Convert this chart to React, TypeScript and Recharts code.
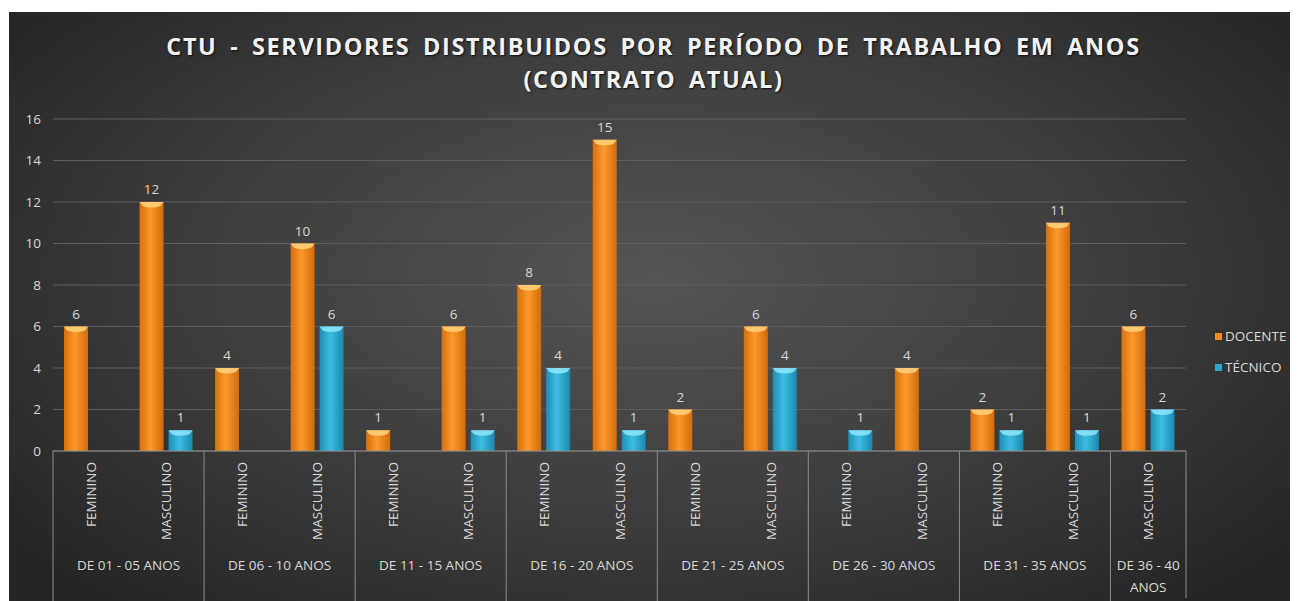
import { BarChart, Bar, XAxis, YAxis, CartesianGrid, LabelList } from 'recharts'

// categories: two-level axis (period group / gender)
const groups = [
  'DE 01 - 05 ANOS', 'DE 01 - 05 ANOS',
  'DE 06 - 10 ANOS', 'DE 06 - 10 ANOS',
  'DE 11 - 15 ANOS', 'DE 11 - 15 ANOS',
  'DE 16 - 20 ANOS', 'DE 16 - 20 ANOS',
  'DE 21 - 25 ANOS', 'DE 21 - 25 ANOS',
  'DE 26 - 30 ANOS', 'DE 26 - 30 ANOS',
  'DE 31 - 35 ANOS', 'DE 31 - 35 ANOS',
  'DE 36 - 40 ANOS',
]
const genders = [
  'FEMININO', 'MASCULINO', 'FEMININO', 'MASCULINO', 'FEMININO', 'MASCULINO',
  'FEMININO', 'MASCULINO', 'FEMININO', 'MASCULINO', 'FEMININO', 'MASCULINO',
  'FEMININO', 'MASCULINO', 'MASCULINO',
]
const docente = [6, 12, 4, 10, 1, 6, 8, 15, 2, 6, null, 4, 2, 11, 6]
const tecnico = [null, 1, null, 6, null, 1, 4, 1, null, 4, 1, null, 1, 1, 2]
const yTicks = [0, 2, 4, 6, 8, 10, 12, 14, 16]

const data = genders.map((g, i) => ({
  key: `${i}`,
  gender: g,
  group: groups[i],
  DOCENTE: docente[i],
  TECNICO: tecnico[i],
}))

const W = 1289
const H = 589
const M = { top: 107, right: 112, left: 0, bottom: 0 }
const Y_W = 44
const X_H = 150
const catW = (W - M.left - M.right - Y_W) / data.length

const txt = '#d9d9d9'
const font = 'Open Sans, sans-serif'

function AxisTick(props: any) {
  const { x, y, payload } = props
  const i = payload.index
  const d = data[i]
  const first = i === 0 || data[i - 1].group !== d.group
  let size = 0
  for (let j = i; j < data.length && data[j].group === d.group; j++) size++
  const left = x - catW / 2
  const isLast = i === data.length - 1
  const groupCx = left + (size * catW) / 2
  const twoLines = size === 1
  return (
    <g>
      <text
        x={x}
        y={y + 11}
        transform={`rotate(-90 ${x} ${y + 11})`}
        textAnchor="end"
        dominantBaseline="central"
        fill={txt}
        fontSize={13.5}
        fontFamily={font}
      >
        {d.gender}
      </text>
      {first && <line x1={left} x2={left} y1={y} y2={y + 150} stroke="#8c8c8c" strokeWidth={1} />}
      {isLast && <line x1={x + catW / 2} x2={x + catW / 2} y1={y} y2={y + 147} stroke="#8c8c8c" strokeWidth={1} />}
      {first && !twoLines && (
        <text x={groupCx} y={y + 119} textAnchor="middle" fill={txt} fontSize={13.5} fontFamily={font}>
          {d.group}
        </text>
      )}
      {first && twoLines && (
        <text x={groupCx} y={y + 119} textAnchor="middle" fill={txt} fontSize={13.5} fontFamily={font}>
          <tspan x={groupCx}>DE 36 - 40</tspan>
          <tspan x={groupCx} dy={22}>ANOS</tspan>
        </text>
      )}
    </g>
  )
}

function makeShape(grad: string, cap: string) {
  return (props: any) => {
    const { x, y, width, height } = props
    if (height == null || height <= 0) return <g />
    const capH = Math.min(7, height)
    return (
      <g>
        <rect x={x} y={y} width={width} height={height} fill={`url(#${grad})`} />
        <path
          d={`M${x},${y} L${x + width},${y} L${x + width - 3},${y + capH - 3} Q${x + width / 2},${y + capH} ${x + 3},${y + capH - 3} Z`}
          fill={cap}
          opacity={0.85}
        />
      </g>
    )
  }
}

const fmt = (v: any) => (v == null ? '' : v)

export default function App() {
  return (
    <div
      style={{
        position: 'relative',
        width: W,
        height: H,
        marginTop: 4,
        marginLeft: 1,
        background: 'radial-gradient(ellipse 65% 75% at 50% 45%, #555555 0%, #3c3c3c 55%, #242424 100%)',
        fontFamily: font,
        overflow: 'hidden',
      }}
    >
      <div
        style={{
          position: 'absolute',
          top: 18,
          left: 0,
          width: W,
          textAlign: 'center',
          color: '#f2f2f2',
          fontWeight: 700,
          fontSize: 23.5,
          letterSpacing: 1.6,
          wordSpacing: 5,
          lineHeight: '33px',
          textShadow: '1px 1px 2px rgba(0,0,0,0.8)',
        }}
      >
        CTU - SERVIDORES DISTRIBUIDOS POR PERÍODO DE TRABALHO EM ANOS
        <br />
        (CONTRATO ATUAL)
      </div>
      <BarChart width={W} height={H} data={data} margin={M} barSize={24} barGap={5}>
        <defs>
          <linearGradient id="gOrange" x1="0" y1="0" x2="1" y2="0">
            <stop offset="0%" stopColor="#d86e0c" />
            <stop offset="45%" stopColor="#fa9a2c" />
            <stop offset="100%" stopColor="#d46a0a" />
          </linearGradient>
          <linearGradient id="gCyan" x1="0" y1="0" x2="1" y2="0">
            <stop offset="0%" stopColor="#1d8fb5" />
            <stop offset="45%" stopColor="#3dbde2" />
            <stop offset="100%" stopColor="#1a88ad" />
          </linearGradient>
        </defs>
        <CartesianGrid vertical={false} stroke="#5e5e5e" />
        <XAxis
          dataKey="key"
          interval={0}
          height={X_H}
          tickSize={0}
          tickMargin={0}
          tick={<AxisTick />}
          axisLine={{ stroke: '#8c8c8c' }}
          tickLine={false}
        />
        <YAxis
          width={Y_W}
          domain={[0, 16]}
          ticks={yTicks}
          axisLine={false}
          tickLine={false}
          tickMargin={6}
          tick={{ fill: txt, fontSize: 13.5, fontFamily: font }}
        />
        <Bar dataKey="DOCENTE" fill="#f28a1e" isAnimationActive={false} shape={makeShape('gOrange', '#ffd27c')}>
          <LabelList dataKey="DOCENTE" position="top" offset={8} fill={txt} fontSize={13.5} fontFamily={font} formatter={fmt} />
        </Bar>
        <Bar dataKey="TECNICO" fill="#2aa8d0" isAnimationActive={false} shape={makeShape('gCyan', '#8fe6fa')}>
          <LabelList dataKey="TECNICO" position="top" offset={8} fill={txt} fontSize={13.5} fontFamily={font} formatter={fmt} />
        </Bar>
      </BarChart>
      <div style={{ position: 'absolute', left: 1206, top: 309, color: txt, fontSize: 13.5, lineHeight: '31px' }}>
        {[
          { name: 'DOCENTE', c: '#f28a1e' },
          { name: 'TÉCNICO', c: '#2aa8d0' },
        ].map((l) => (
          <div key={l.name} style={{ display: 'flex', alignItems: 'center' }}>
            <span style={{ width: 7, height: 7, background: l.c, marginRight: 3, display: 'inline-block' }} />
            {l.name}
          </div>
        ))}
      </div>
    </div>
  )
}
